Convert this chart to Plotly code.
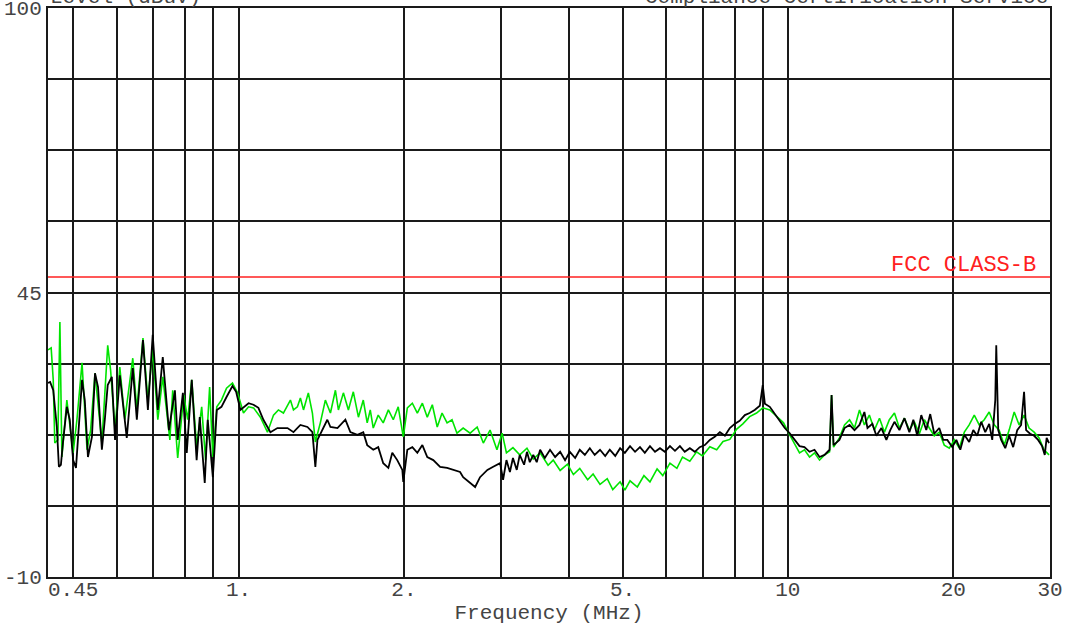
import plotly.graph_objects as go

# ---------------- data ----------------
green_freq = [
    0.450, 0.456, 0.460, 0.463, 0.469, 0.473, 0.477, 0.481, 0.487, 0.500,
    0.508, 0.519, 0.530, 0.538, 0.548, 0.564, 0.578, 0.585, 0.596, 0.608,
    0.621, 0.642, 0.653, 0.670, 0.684, 0.698, 0.713, 0.728, 0.750, 0.759,
    0.775, 0.795, 0.808, 0.822, 0.839, 0.857, 0.871, 0.886, 0.898, 0.913,
    0.931, 0.951, 0.975, 0.996,
    1.021, 1.043, 1.065, 1.096, 1.129, 1.158, 1.182, 1.207, 1.243, 1.259,
    1.280, 1.296, 1.313, 1.340, 1.363, 1.380, 1.409, 1.439, 1.470, 1.501,
    1.520, 1.552, 1.585, 1.618, 1.653, 1.687, 1.715, 1.737, 1.759, 1.796,
    1.834, 1.874, 1.913, 1.953, 1.995, 2.029, 2.072, 2.116, 2.161, 2.206,
    2.253, 2.300, 2.347, 2.397, 2.447, 2.498, 2.564, 2.640, 2.719, 2.790,
    2.870, 2.954, 3.019, 3.074, 3.159, 3.25, 3.35, 3.44, 3.54, 3.66,
    3.74, 3.85, 3.97, 4.07, 4.18, 4.32, 4.42, 4.55, 4.69, 4.80,
    4.95, 5.05, 5.16, 5.32, 5.47, 5.61, 5.78, 5.92, 6.10, 6.28,
    6.43, 6.63, 6.82, 6.99, 7.21, 7.42, 7.62, 7.84, 8.07, 8.28,
    8.52, 8.77, 9.00, 9.27, 9.58, 9.82, 10.07, 10.37, 10.50,
    10.72, 10.95, 11.18, 11.42, 11.66, 11.91, 12.01, 12.11, 12.41, 12.68,
    12.95, 13.22, 13.50, 13.78, 14.07, 14.37, 14.68, 14.99, 15.30, 15.63,
    15.96, 16.30, 16.64, 16.99, 17.35, 17.72, 18.09, 18.47, 18.86, 19.26,
    19.67, 20.09, 20.51, 20.95, 21.38, 21.84, 22.30, 22.77, 23.25, 23.75,
    24.24, 24.76, 25.28, 25.82, 26.36, 26.91, 27.48, 28.07, 28.66, 29.25,
    29.88,
]
green_level = [
    33.9, 34.3, 28.1, 15.9, 16.5, 39.3, 13.2, 18.4, 24.2, 14.0,
    20.4, 31.4, 14.6, 18.4, 29.4, 15.9, 34.8, 30.0, 18.4, 30.6,
    20.4, 32.3, 22.3, 36.2, 24.2, 33.9, 20.4, 28.7, 16.5, 26.1,
    13.0, 25.2, 20.4, 28.1, 15.1, 22.9, 12.6, 26.7, 13.2, 22.9,
    24.2, 26.5, 27.5, 25.6,
    21.7, 22.9, 22.7, 20.9, 18.0, 21.3, 22.3, 21.7, 24.2, 22.3,
    22.9, 24.6, 22.3, 25.6, 21.7, 16.1, 19.8, 24.2, 21.7, 26.1,
    22.3, 25.6, 22.3, 25.8, 20.9, 24.2, 19.8, 22.3, 18.8, 21.3,
    19.8, 22.3, 20.4, 22.9, 17.1, 22.7, 23.6, 21.7, 23.6, 20.9,
    23.3, 19.0, 21.7, 19.8, 20.4, 17.8, 18.8, 17.8, 19.0, 15.9,
    18.4, 14.6, 17.8, 14.0, 15.0, 13.6, 14.9, 12.8, 14.0, 11.6,
    12.6, 10.6, 11.8, 9.8, 11.0, 8.8, 9.9, 7.9, 9.0, 6.9,
    8.4, 6.8, 8.6, 7.4, 9.6, 8.4, 10.9, 9.6, 12.0, 11.0,
    13.2, 12.4, 14.2, 13.4, 15.2, 14.6, 16.2, 16.6, 18.6, 19.6,
    21.0, 21.7, 22.7, 22.3, 20.9, 19.8, 17.5, 15.1, 14.0,
    14.6, 13.2, 14.0, 12.6, 13.6, 14.2, 25.2, 15.1, 16.9, 19.4,
    20.4, 18.8, 22.3, 19.4, 21.3, 18.4, 20.7, 18.0, 20.4, 21.7,
    18.8, 20.7, 18.4, 20.0, 17.7, 20.4, 18.8, 17.3, 18.0, 15.5,
    14.9, 16.5, 14.9, 18.0, 19.4, 21.3, 19.4, 20.4, 21.9, 19.4,
    18.4, 15.5, 18.4, 21.9, 19.4, 21.3, 18.8, 18.0, 16.9, 14.6,
    13.6,
]

black_freq = [
    0.450, 0.454, 0.460, 0.467, 0.471, 0.475, 0.479, 0.487, 0.493, 0.500,
    0.506, 0.514, 0.519, 0.525, 0.532, 0.541, 0.548, 0.555, 0.564, 0.571,
    0.578, 0.588, 0.596, 0.608, 0.626, 0.642, 0.653, 0.670, 0.684, 0.698,
    0.713, 0.728, 0.747, 0.766, 0.775, 0.792, 0.805, 0.822, 0.839, 0.850,
    0.868, 0.879, 0.898, 0.913, 0.931, 0.951, 0.975, 0.990,
    1.008, 1.043, 1.065, 1.087, 1.110, 1.143, 1.177, 1.228, 1.259, 1.296,
    1.335, 1.363, 1.380, 1.392, 1.421, 1.451, 1.470, 1.514, 1.565, 1.598,
    1.646, 1.687, 1.715, 1.759, 1.796, 1.834, 1.874, 1.905, 1.945, 1.987,
    1.995, 2.029, 2.072, 2.116, 2.161, 2.206, 2.262, 2.328, 2.397, 2.457,
    2.531, 2.564, 2.640, 2.696, 2.752, 2.838, 2.908, 2.993, 3.031, 3.074,
    3.119, 3.159, 3.21, 3.25, 3.31, 3.35, 3.39, 3.44, 3.49, 3.54,
    3.61, 3.69, 3.77, 3.85, 3.93, 4.01, 4.10, 4.18, 4.27, 4.36,
    4.45, 4.55, 4.65, 4.74, 4.85, 4.95, 5.05, 5.16, 5.27, 5.38,
    5.49, 5.61, 5.73, 5.85, 5.97, 6.10, 6.23, 6.36, 6.49, 6.63,
    6.77, 6.91, 7.06, 7.21, 7.36, 7.52, 7.68, 7.84, 8.00, 8.17,
    8.35, 8.52, 8.70, 8.89, 9.00, 9.08, 9.27, 9.47, 9.66, 9.87,
    10.07, 10.28, 10.50, 10.72, 10.95, 11.18, 11.42, 11.66, 11.91, 12.01,
    12.11, 12.41, 12.68, 12.95, 13.22, 13.50, 13.78, 13.96, 14.25, 14.49,
    14.80, 15.11, 15.36, 15.63, 15.96, 16.30, 16.64, 16.92, 17.20, 17.49,
    17.86, 18.16, 18.47, 18.86, 19.18, 19.51, 19.92, 20.26, 20.60, 20.95,
    21.38, 21.75, 22.11, 22.49, 22.87, 23.25, 23.55, 23.85, 23.95, 24.15,
    24.45, 24.87, 25.28, 25.71, 26.15, 26.58, 26.91, 27.14, 27.60, 28.07,
    28.54, 29.02, 29.35, 29.58, 29.88,
]
black_level = [
    27.5, 27.7, 26.1, 19.0, 11.3, 11.7, 15.9, 22.9, 20.4, 12.6,
    11.1, 22.3, 28.1, 24.2, 13.2, 17.1, 29.4, 26.7, 14.6, 20.4,
    27.1, 28.7, 16.5, 29.0, 16.9, 30.4, 20.4, 35.8, 22.3, 36.8,
    22.3, 32.5, 18.4, 26.1, 16.5, 25.6, 14.0, 28.1, 12.6, 20.9,
    8.2, 20.4, 9.3, 22.3, 22.9, 24.8, 26.9, 25.8,
    22.3, 23.6, 23.3, 22.7, 20.4, 18.0, 18.8, 18.8, 18.0, 19.4,
    19.0, 18.0, 11.3, 16.5, 18.4, 20.4, 19.0, 18.8, 20.4, 18.0,
    17.5, 18.0, 15.5, 14.6, 15.1, 12.0, 11.1, 14.0, 12.6, 10.7,
    8.4, 14.6, 15.1, 14.0, 15.5, 13.2, 12.6, 11.3, 11.1, 10.7,
    10.3, 9.3, 8.2, 7.4, 9.3, 10.7, 11.3, 12.0, 8.8, 12.6,
    10.3, 13.0, 10.7, 13.6, 11.7, 14.2, 12.2, 13.6, 12.2, 14.6,
    13.0, 14.6, 13.2, 14.2, 12.6, 14.2, 13.0, 14.6, 13.6, 14.9,
    13.6, 14.6, 13.4, 14.6, 13.4, 14.9, 14.0, 15.3, 14.2, 15.1,
    14.0, 15.3, 14.2, 14.9, 14.2, 15.3, 14.4, 15.3, 14.2, 14.9,
    14.2, 15.1, 15.5, 16.5, 17.1, 18.0, 17.3, 18.8, 19.6, 20.2,
    21.3, 21.7, 22.3, 23.1, 27.1, 23.5, 22.9, 21.5, 20.4, 18.8,
    17.8, 16.5, 15.3, 15.1, 14.2, 14.6, 13.2, 13.6, 14.6, 25.2,
    15.5, 16.5, 18.8, 19.4, 18.4, 19.4, 21.9, 18.8, 19.6, 17.3,
    18.8, 16.5, 18.4, 20.0, 18.4, 20.7, 18.0, 20.4, 17.3, 21.3,
    18.4, 21.5, 17.7, 18.8, 16.5, 16.5, 15.1, 16.5, 14.6, 17.5,
    16.1, 18.4, 17.3, 20.0, 18.0, 19.6, 16.5, 24.2, 34.8, 18.4,
    16.5, 14.9, 17.3, 15.1, 18.4, 19.4, 25.8, 18.4, 17.7, 17.3,
    16.5, 15.3, 13.6, 16.9, 15.9,
]

fcc_limit_freq = [0.45, 30.0]
fcc_limit_level = [48.0, 48.0]

x_grid_vals = [0.45, 0.5, 0.6, 0.7, 0.8, 0.9, 1, 2, 3, 4, 5, 6, 7, 8, 9, 10, 20, 30]
x_grid_text = ["\u00a0\u00a0\u00a0\u00a00.45", "", "", "", "", "", "1.", "2.", "", "",
               "5.", "", "", "", "", "10", "20", "30"]
y_grid_vals = [-10, 3.75, 17.5, 31.25, 45, 58.75, 72.5, 86.25, 100]
y_grid_text = ["-10", "", "", "", "45", "", "", "", "100"]

MONO = "Liberation Mono, Courier New, monospace"
TXT = "#444444"

fig = go.Figure()
fig.add_trace(go.Scatter(x=fcc_limit_freq, y=fcc_limit_level, mode="lines",
                         line=dict(color="#ff2020", width=1.6), name="FCC CLASS-B",
                         showlegend=False, hoverinfo="skip"))
fig.add_trace(go.Scatter(x=green_freq, y=green_level, mode="lines",
                         line=dict(color="#00e400", width=1.6), showlegend=False))
fig.add_trace(go.Scatter(x=black_freq, y=black_level, mode="lines",
                         line=dict(color="#000000", width=1.8), showlegend=False))

fig.add_annotation(x=1.0, y=48, xref="paper", yref="y", text="FCC CLASS-B",
                   showarrow=False, xanchor="right", yanchor="bottom", xshift=-12, yshift=-3,
                   font=dict(family=MONO, size=22, color="#ff2020"))
fig.add_annotation(x=0, y=1, xref="paper", yref="paper", text="Level (dBuV)",
                   showarrow=False, xanchor="left", yanchor="bottom", yshift=-3,
                   font=dict(family=MONO, size=21, color=TXT))
fig.add_annotation(x=1, y=1, xref="paper", yref="paper", text="Compliance Certification Service",
                   showarrow=False, xanchor="right", yanchor="bottom", yshift=-3,
                   font=dict(family=MONO, size=21, color=TXT))

fig.update_layout(
    width=1065, height=625,
    margin=dict(l=48, r=15, t=8, b=48),
    paper_bgcolor="white", plot_bgcolor="white",
    font=dict(family=MONO, size=21, color=TXT),
)
fig.update_xaxes(
    type="log", range=[-0.346787, 1.477121],
    tickmode="array", tickvals=x_grid_vals, ticktext=x_grid_text,
    showgrid=True, gridcolor="#1a1a1a", gridwidth=1.6,
    showline=True, linecolor="#1a1a1a", linewidth=2, mirror=True,
    ticks="", zeroline=False, ticklabeloverflow="allow", ticklabelstandoff=-8,
    tickfont=dict(family=MONO, size=21, color=TXT),
    title=dict(text="Frequency (MHz)", font=dict(family=MONO, size=21, color=TXT)),
    automargin=False,
)
fig.update_yaxes(
    range=[-10, 100],
    tickmode="array", tickvals=y_grid_vals, ticktext=y_grid_text,
    showgrid=True, gridcolor="#1a1a1a", gridwidth=1.6,
    showline=True, linecolor="#1a1a1a", linewidth=2, mirror=True,
    ticks="", zeroline=False, ticklabeloverflow="allow",
    tickfont=dict(family=MONO, size=21, color=TXT),
    automargin=False,
)

fig.write_html("out.html", config={"displayModeBar": False},
               post_script="document.body.style.margin='0';")
